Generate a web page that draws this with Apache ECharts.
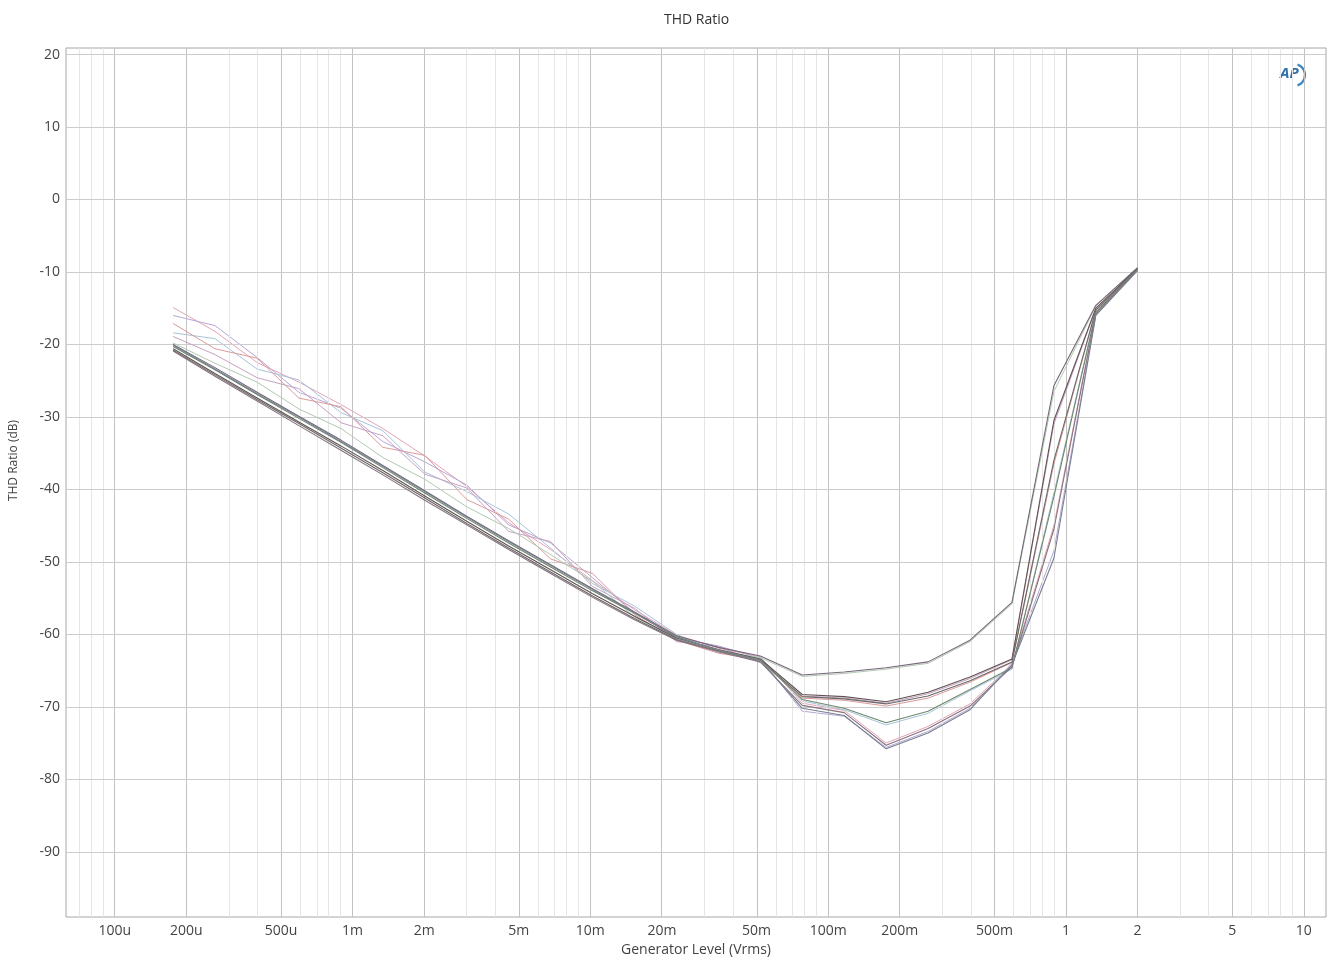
<!DOCTYPE html>
<html>
<head>
<meta charset="utf-8">
<title>THD Ratio</title>
<script src="https://cdn.jsdelivr.net/npm/echarts@6.0.0/dist/echarts.min.js"></script>
<style>
  html, body { margin: 0; padding: 0; background: #ffffff; }
  #chart { width: 1330px; height: 967px; }
</style>
</head>
<body>
<div id="chart"></div>
<script>
// Generator sweep levels (Vrms), log-spaced steps
const levels = [0.000176, 0.000264, 0.000397, 0.000595, 0.000894, 0.001341, 0.002013, 0.003022,
  0.004535, 0.006807, 0.01022, 0.01534, 0.02302, 0.03455, 0.05185, 0.07783,
  0.1168, 0.1753, 0.2631, 0.3949, 0.5927, 0.8896, 1.335, 2.000];

// THD ratio (dB) per channel trace
const thdCh1 = [-20.0, -23.2, -26.6, -29.9, -33.2, -36.7, -40.2, -43.7, -47.1, -50.4, -53.7, -56.9,
  -60.2, -61.8, -63.0, -65.6, -65.2, -64.6, -63.8, -60.8, -55.6, -25.7, -14.6, -9.4];
const thdCh2 = [-20.6, -24.0, -27.4, -30.7, -34.0, -37.4, -40.9, -44.4, -47.8, -51.1, -54.4, -57.5,
  -60.5, -62.1, -63.4, -68.3, -68.6, -69.3, -68.0, -65.9, -63.4, -30.5, -15.0, -9.5];
const thdCh3 = [-20.8, -24.2, -27.6, -30.9, -34.3, -37.7, -41.2, -44.7, -48.1, -51.4, -54.7, -57.8,
  -60.7, -62.3, -63.6, -68.6, -68.9, -69.6, -68.5, -66.4, -63.8, -36.0, -15.3, -9.6];
const thdCh4 = [-20.3, -23.5, -26.9, -30.2, -33.5, -37.0, -40.5, -44.0, -47.4, -50.7, -54.0, -57.1,
  -60.3, -62.2, -63.5, -69.0, -70.2, -72.2, -70.6, -67.6, -64.6, -41.0, -15.6, -9.6];
const thdCh5 = [-20.9, -24.4, -27.8, -31.2, -34.6, -38.0, -41.5, -44.9, -48.3, -51.6, -54.9, -58.0,
  -60.8, -62.4, -63.8, -69.8, -70.8, -75.3, -73.0, -69.9, -64.5, -45.5, -15.8, -9.7];
const thdCh6 = [-20.1, -23.4, -26.8, -30.0, -33.4, -36.8, -40.3, -43.8, -47.2, -50.5, -53.8, -57.0,
  -60.4, -62.2, -63.6, -70.2, -71.2, -75.8, -73.6, -70.4, -64.2, -49.5, -16.0, -9.8];

// Second pass of the same sweep (noisier at low level)
const thdRun2a = [-14.9, -18.2, -22.5, -25.2, -28.3, -31.6, -35.4, -39.6, -44.6, -48.3, -52.6, -56.6,
  -60.1, -61.9, -63.1, -69.5, -70.5, -75.0, -72.7, -69.6, -64.2, -45.0, -15.7, -9.6];
const thdRun2b = [-16.0, -17.4, -21.8, -26.6, -28.8, -33.4, -36.2, -39.4, -44.9, -47.4, -52.2, -57.0,
  -60.5, -61.6, -63.3, -70.6, -71.3, -75.6, -73.4, -70.2, -64.0, -48.5, -16.0, -9.7];
const thdRun2c = [-18.4, -19.2, -23.4, -24.9, -29.4, -31.9, -37.6, -40.3, -43.4, -48.1, -53.0, -56.1,
  -60.0, -62.5, -63.2, -69.2, -70.4, -72.5, -70.9, -67.8, -64.8, -40.5, -15.6, -9.6];
const thdRun2d = [-17.1, -20.6, -21.9, -27.4, -28.6, -34.2, -35.3, -41.4, -44.1, -49.6, -51.6, -57.3,
  -60.8, -62.6, -63.5, -68.8, -69.1, -69.9, -68.8, -66.6, -63.9, -36.5, -15.3, -9.6];
const thdRun2e = [-18.9, -21.4, -24.6, -26.1, -30.8, -32.6, -37.9, -39.8, -45.8, -47.2, -53.4, -56.4,
  -61.0, -61.7, -63.9, -68.5, -68.8, -69.5, -68.2, -66.1, -63.5, -31.0, -15.1, -9.5];
const thdRun2f = [-19.8, -22.6, -25.2, -28.9, -31.6, -35.6, -38.6, -42.4, -45.4, -49.0, -52.7, -57.6,
  -60.6, -62.3, -63.2, -65.8, -65.4, -64.8, -64.0, -61.0, -55.8, -26.5, -14.7, -9.4];

// Axis ticks
const xTickLevels = [1e-4, 2e-4, 5e-4, 1e-3, 2e-3, 5e-3, 1e-2, 2e-2, 5e-2, 0.1, 0.2, 0.5, 1, 2, 5, 10];
const xTickLabels = ['100u', '200u', '500u', '1m', '2m', '5m', '10m', '20m', '50m', '100m', '200m', '500m', '1', '2', '5', '10'];
const yTicks = [-90, -80, -70, -60, -50, -40, -30, -20, -10, 0, 10, 20];

// Axis extents
const xMinLevel = 62.4e-6;
const xMaxLevel = 12.4;
const yMin = -99;
const yMax = 20.9;

const lg = Math.log10;
const FONT = '"Open Sans", "Noto Sans", sans-serif';

const traces = [
  { name: 'Run 2a', color: '#e4a4b6', width: 1, values: thdRun2a },
  { name: 'Run 2b', color: '#b6a6d6', width: 1, values: thdRun2b },
  { name: 'Run 2c', color: '#a6c4dc', width: 1, values: thdRun2c },
  { name: 'Run 2d', color: '#dc9a9a', width: 1, values: thdRun2d },
  { name: 'Run 2e', color: '#c6a2c2', width: 1, values: thdRun2e },
  { name: 'Run 2f', color: '#b2c8b2', width: 1, values: thdRun2f },
  { name: 'Ch 1', color: '#76667a', width: 1.1, values: thdCh1 },
  { name: 'Ch 2', color: '#625252', width: 1.1, values: thdCh2 },
  { name: 'Ch 3', color: '#686868', width: 1.1, values: thdCh3 },
  { name: 'Ch 4', color: '#6c886a', width: 1.1, values: thdCh4 },
  { name: 'Ch 5', color: '#86727c', width: 1.1, values: thdCh5 },
  { name: 'Ch 6', color: '#768090', width: 1.1, values: thdCh6 }
];

// Log grid: major lines at 1-2-5, light lines at the other integer multiples
const gridLines = [];
for (let e = -5; e <= 1; e++) {
  for (let m = 1; m <= 9; m++) {
    const v = m * Math.pow(10, e);
    if (v < xMinLevel || v > xMaxLevel) continue;
    const major = (m === 1 || m === 2 || m === 5);
    gridLines.push({ xAxis: lg(v), lineStyle: { color: major ? '#c2c2c2' : '#e6e6e6', width: 1, type: 'solid' } });
  }
}
yTicks.forEach(function (t) {
  gridLines.push({ yAxis: t, lineStyle: { color: '#cccccc', width: 1, type: 'solid' } });
});

const series = [{
  type: 'line',
  name: 'grid',
  data: [],
  silent: true,
  z: 1,
  markLine: {
    silent: true,
    symbol: ['none', 'none'],
    label: { show: false },
    animation: false,
    emphasis: { disabled: true },
    data: gridLines
  }
}];

traces.forEach(function (t, k) {
  series.push({
    type: 'line',
    name: t.name,
    data: levels.map(function (v, i) { return [lg(v), t.values[i]]; }),
    showSymbol: false,
    symbol: 'none',
    smooth: false,
    z: 2 + k,
    lineStyle: { color: t.color, width: t.width },
    emphasis: { disabled: true },
    animation: false
  });
});

const chart = echarts.init(document.getElementById('chart'), null, { renderer: 'canvas' });
chart.setOption({
  backgroundColor: '#ffffff',
  animation: false,
  title: {
    text: 'THD Ratio',
    left: 659,
    top: 8,
    textStyle: { fontFamily: FONT, fontSize: 14, fontWeight: 'normal', color: '#333333' }
  },
  grid: {
    left: 65, top: 48, right: 4, bottom: 50,
    show: true, borderColor: '#a6a6a6', borderWidth: 1, backgroundColor: 'transparent'
  },
  xAxis: {
    type: 'value',
    min: lg(xMinLevel),
    max: lg(xMaxLevel),
    name: 'Generator Level (Vrms)',
    nameLocation: 'middle',
    nameGap: 26,
    nameTextStyle: { fontFamily: FONT, fontSize: 14, color: '#444444' },
    axisLine: { show: false },
    axisTick: { show: false },
    splitLine: { show: false },
    axisLabel: {
      customValues: xTickLevels.map(lg),
      margin: 7,
      fontFamily: FONT, fontSize: 14, color: '#444444',
      formatter: function (v) {
        let best = 0, bd = Infinity;
        xTickLevels.forEach(function (t, i) {
          const d = Math.abs(lg(t) - v);
          if (d < bd) { bd = d; best = i; }
        });
        return xTickLabels[best];
      }
    }
  },
  yAxis: {
    type: 'value',
    min: yMin,
    max: yMax,
    name: 'THD Ratio (dB)',
    nameLocation: 'middle',
    nameGap: 46,
    nameTextStyle: { fontFamily: FONT, fontSize: 12, color: '#444444', padding: [0, 0, 0, 44] },
    axisLine: { show: false },
    axisTick: { show: false },
    splitLine: { show: false },
    axisLabel: {
      customValues: yTicks,
      margin: 6,
      fontFamily: FONT, fontSize: 14, color: '#444444'
    }
  },
  graphic: [{
    type: 'group',
    left: 1280,
    top: 62,
    children: [
      {
        type: 'text',
        x: 0, y: 2,
        style: { text: 'AP', font: 'italic bold 15px ' + FONT, fill: '#2f6fae' }
      },
      {
        type: 'arc',
        shape: { cx: 14, cy: 11, r: 11, startAngle: -1.25, endAngle: 1.25 },
        style: { stroke: '#3c86c4', lineWidth: 2.2, fill: null }
      }
    ]
  }],
  series: series
});
</script>
</body>
</html>
